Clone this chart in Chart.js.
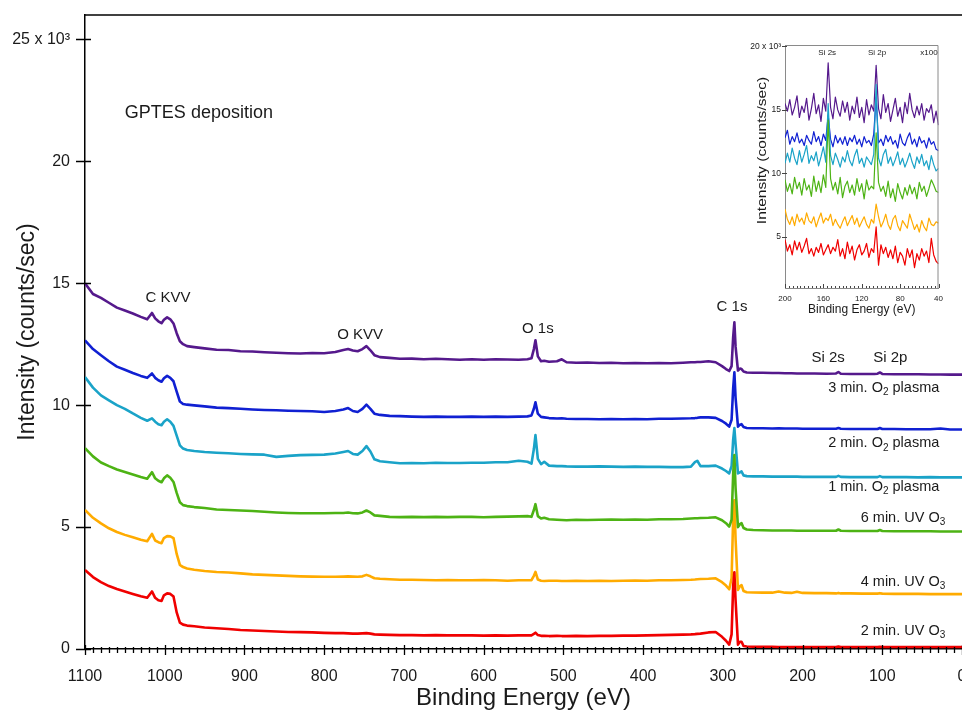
<!DOCTYPE html>
<html>
<head>
<meta charset="utf-8">
<script src="https://cdn.jsdelivr.net/npm/chart.js@4.4.1/dist/chart.umd.min.js"></script>
<style>
  body { margin: 0; background: #fff; }
  #wrap { position: relative; width: 962px; height: 714px; }
  #main { position: absolute; left: 0; top: 0; }
  #inset { position: absolute; left: 740px; top: 20px; }
</style>
</head>
<body>
<div id="wrap">
  <canvas id="main" width="962" height="714"></canvas>
  <canvas id="inset" width="215" height="305"></canvas>
</div>
<script>
const FONT = "'Liberation Sans', Arial, Helvetica, sans-serif";
Chart.defaults.font.family = FONT;
Chart.defaults.color = '#1a1a1a';

// ---- main survey spectra (binding energy in eV, intensity in 10^3 counts/sec)
const ENERGY_EV = [
  1100, 1090, 1080, 1070, 1060, 1050, 1040, 1030, 1022, 1016,
  1012, 1008, 1004, 1001, 997, 993, 989, 985, 981, 977,
  972, 963, 950, 935, 920, 905, 890, 875, 860, 845,
  830, 815, 800, 786, 776, 770, 764, 758, 752, 747,
  742, 737, 730, 718, 705, 690, 675, 660, 645, 630,
  615, 600, 585, 570, 556, 545, 540, 537, 535, 532,
  528, 524, 518, 508, 502, 496, 484, 470, 455, 440,
  425, 410, 395, 380, 365, 350, 340, 335, 332, 328,
  318, 309, 301, 296, 292, 289, 287, 285.5, 284, 281,
  278.5, 276.5, 274, 270, 262, 250, 238, 230, 222, 214,
  207, 200, 185, 170, 158, 155, 152, 140, 125, 110,
  106, 103, 100, 85, 70, 55, 40, 27, 15, 0
];

const O2_PLASMA_3MIN = [
  15.0, 14.56, 14.4, 14.2, 14.0, 13.88, 13.76, 13.62, 13.52, 13.78,
  13.56, 13.44, 13.36, 13.5, 13.6, 13.52, 13.35, 12.95, 12.62, 12.5,
  12.42, 12.38, 12.33, 12.27, 12.26, 12.21, 12.2, 12.17, 12.15, 12.13,
  12.12, 12.14, 12.13, 12.18, 12.26, 12.3, 12.24, 12.21, 12.3, 12.42,
  12.25, 12.05, 11.97, 11.94, 11.9, 11.91, 11.88, 11.9, 11.88, 11.86,
  11.88, 11.86, 11.88, 11.87, 11.86, 11.88, 11.92, 12.3, 12.66, 12.0,
  11.8, 11.82, 11.78, 11.8, 11.88, 11.76, 11.74, 11.75, 11.73, 11.74,
  11.72, 11.73, 11.72, 11.73, 11.72, 11.74, 11.76, 11.76, 11.77, 11.77,
  11.8, 11.76, 11.6, 11.48, 11.4, 11.6, 12.8, 13.4, 12.4, 11.42,
  11.5, 11.48, 11.38, 11.34, 11.33, 11.33, 11.32, 11.32, 11.31, 11.31,
  11.3, 11.3, 11.3, 11.29, 11.3, 11.36, 11.29, 11.28, 11.28, 11.28,
  11.29, 11.34, 11.28, 11.27, 11.27, 11.27, 11.26, 11.26, 11.25, 11.25
];

const O2_PLASMA_2MIN = [
  12.66, 12.3, 12.05, 11.8, 11.58, 11.45, 11.32, 11.2, 11.12, 11.3,
  11.12, 11.02, 10.96, 11.1, 11.2, 11.12, 10.98, 10.55, 10.15, 10.05,
  10.02, 9.99, 9.95, 9.9, 9.88, 9.85, 9.82, 9.8, 9.79, 9.77,
  9.76, 9.75, 9.72, 9.76, 9.82, 9.88, 9.76, 9.72, 9.85, 10.02,
  9.85, 9.65, 9.6, 9.56, 9.55, 9.53, 9.52, 9.53, 9.52, 9.52,
  9.53, 9.52, 9.53, 9.52, 9.53, 9.54, 9.58, 9.85, 10.12, 9.65,
  9.52, 9.5, 9.47, 9.45, 9.46, 9.44, 9.43, 9.43, 9.42, 9.43,
  9.42, 9.43, 9.42, 9.44, 9.44, 9.45, 9.46, 9.47, 9.48, 9.5,
  9.5, 9.48, 9.35, 9.24, 9.12, 9.4, 10.7, 11.35, 10.3, 9.12,
  9.2, 9.22, 9.1, 9.06, 9.05, 9.05, 9.04, 9.05, 9.04, 9.04,
  9.04, 9.03, 9.03, 9.03, 9.03, 9.06, 9.03, 9.02, 9.02, 9.02,
  9.02, 9.06, 9.02, 9.02, 9.01, 9.01, 9.01, 9.04, 9.0, 9.0
];

const O2_PLASMA_1MIN = [
  11.15, 10.72, 10.4, 10.2, 10.0, 9.85, 9.66, 9.48, 9.36, 9.46,
  9.32, 9.22, 9.18, 9.32, 9.42, 9.32, 9.15, 8.75, 8.35, 8.22,
  8.16, 8.12, 8.08, 8.05, 8.03, 8.0, 7.98, 7.97, 7.88, 7.92,
  7.95, 7.96, 7.97, 8.02, 8.08, 8.12, 8.0, 7.97, 8.12, 8.32,
  8.1, 7.78, 7.7, 7.66, 7.62, 7.63, 7.62, 7.64, 7.63, 7.63,
  7.64, 7.64, 7.66, 7.66, 7.72, 7.68, 7.6, 8.2, 8.77, 7.8,
  7.58, 7.68, 7.52, 7.5, 7.5, 7.49, 7.48, 7.48, 7.49, 7.48,
  7.47, 7.48, 7.47, 7.47, 7.46, 7.46, 7.48, 7.66, 7.72, 7.5,
  7.5, 7.52, 7.4, 7.3, 7.2, 7.5, 8.6, 9.06, 8.4, 7.2,
  7.24, 7.28, 7.12, 7.09, 7.08, 7.08, 7.07, 7.07, 7.07, 7.07,
  7.07, 7.06, 7.06, 7.06, 7.06, 7.1, 7.06, 7.05, 7.05, 7.05,
  7.05, 7.09, 7.05, 7.05, 7.05, 7.04, 7.05, 7.04, 7.04, 7.04
];

const UV_O3_6MIN = [
  8.24, 7.9, 7.65, 7.5, 7.36, 7.26, 7.16, 7.05, 6.98, 7.25,
  7.0, 6.9, 6.84, 7.0, 7.12, 7.02, 6.85, 6.4, 6.02, 5.9,
  5.86, 5.82, 5.78, 5.72, 5.7, 5.68, 5.66, 5.63, 5.6, 5.58,
  5.57, 5.57, 5.57, 5.58, 5.58, 5.6, 5.57, 5.56, 5.6, 5.68,
  5.6, 5.48, 5.46, 5.42, 5.41, 5.42, 5.41, 5.42, 5.41, 5.42,
  5.42, 5.4, 5.42, 5.43, 5.44, 5.45, 5.42, 5.7, 5.94, 5.45,
  5.35, 5.38, 5.32, 5.3, 5.29, 5.28, 5.3, 5.29, 5.3, 5.31,
  5.3, 5.31, 5.3, 5.32, 5.32, 5.33, 5.35, 5.36, 5.36, 5.37,
  5.38, 5.4, 5.28, 5.16, 5.02, 5.3, 7.2, 7.95, 6.6, 5.0,
  5.12, 5.16, 4.96, 4.9, 4.88, 4.87, 4.86, 4.86, 4.86, 4.86,
  4.85, 4.85, 4.85, 4.85, 4.85, 4.9, 4.85, 4.84, 4.84, 4.84,
  4.84, 4.88, 4.84, 4.83, 4.83, 4.83, 4.83, 4.82, 4.82, 4.82
];

const UV_O3_4MIN = [
  5.7, 5.38, 5.15, 4.95, 4.8, 4.68, 4.58, 4.48, 4.42, 4.72,
  4.45, 4.38, 4.34, 4.55, 4.63, 4.62, 4.55, 3.9, 3.45, 3.36,
  3.3, 3.25, 3.2, 3.16, 3.14, 3.1, 3.06, 3.04, 3.02, 3.0,
  2.98, 2.97, 2.96, 2.96, 2.97, 2.98, 2.97, 2.96, 2.98, 3.04,
  2.98, 2.9, 2.88, 2.86, 2.84, 2.84, 2.83, 2.82, 2.83, 2.82,
  2.82, 2.83, 2.82, 2.8, 2.82, 2.82, 2.82, 3.0, 3.16, 2.85,
  2.8, 2.79, 2.8, 2.8, 2.79, 2.79, 2.8, 2.79, 2.8, 2.79,
  2.8, 2.81, 2.8, 2.82, 2.82, 2.83, 2.84, 2.85, 2.86, 2.87,
  2.88, 2.9, 2.74, 2.6, 2.45, 2.9, 5.4, 6.1, 4.5, 2.42,
  2.58, 2.62, 2.38, 2.33, 2.32, 2.31, 2.31, 2.36, 2.31, 2.3,
  2.35, 2.3, 2.29, 2.29, 2.28, 2.3, 2.28, 2.28, 2.27, 2.27,
  2.27, 2.29, 2.27, 2.26, 2.26, 2.26, 2.25, 2.25, 2.25, 2.25
];

const UV_O3_2MIN = [
  3.24, 2.95, 2.74, 2.58, 2.46, 2.36, 2.26, 2.16, 2.1, 2.36,
  2.1, 2.0, 1.97, 2.2, 2.28, 2.26, 2.15, 1.5, 1.08, 1.0,
  0.96, 0.93, 0.88, 0.85, 0.82, 0.78, 0.76, 0.74, 0.72, 0.7,
  0.69, 0.68, 0.66, 0.65, 0.65, 0.64, 0.63, 0.63, 0.64, 0.65,
  0.63, 0.6, 0.59, 0.58, 0.57, 0.57, 0.56, 0.57, 0.56, 0.56,
  0.56, 0.55, 0.56, 0.55, 0.56, 0.56, 0.56, 0.62, 0.67, 0.57,
  0.54, 0.54, 0.53, 0.54, 0.53, 0.53, 0.54, 0.53, 0.54, 0.54,
  0.55, 0.55, 0.56, 0.57, 0.58, 0.59, 0.6, 0.61, 0.62, 0.63,
  0.68, 0.7, 0.5, 0.34, 0.18, 0.6, 2.6, 3.15, 2.0, 0.18,
  0.3, 0.3, 0.12, 0.1, 0.09, 0.09, 0.09, 0.08, 0.08, 0.08,
  0.08, 0.08, 0.08, 0.08, 0.08, 0.1, 0.08, 0.08, 0.08, 0.08,
  0.08, 0.09, 0.08, 0.08, 0.08, 0.08, 0.08, 0.08, 0.08, 0.08
];

const Y_TICKS = [0, 5, 10, 15, 20, 25];

// ---- inset: Si 2s / Si 2p region, x100
const INSET_EV = [
  200, 197.5, 195, 192.5, 190, 187.5, 185, 182.5, 180, 177.5, 175, 172.5, 170,
  167.5, 165, 162.5, 160, 157.5, 155, 152.5, 150, 147.5, 145, 142.5, 140, 137.5,
  135, 132.5, 130, 127.5, 125, 122.5, 120, 117.5, 115, 112.5, 110, 107.5, 105,
  102.5, 100, 97.5, 95, 92.5, 90, 87.5, 85, 82.5, 80, 77.5, 75, 72.5,
  70, 67.5, 65, 62.5, 60, 57.5, 55, 52.5, 50, 47.5, 45, 42.5, 40
];
const INSET_3MIN = [
  15.5, 14.9, 15.8, 14.6, 15.2, 16.1, 14.4, 15.3, 14.8, 15.9, 14.2, 15.1, 16.3,
  14.7, 15.4, 14.1, 15.9, 14.9, 18.7, 15.2, 14.3, 16.0, 15.0, 14.5, 15.7, 14.8,
  15.6, 14.2, 15.3, 14.7, 16.0, 14.4, 15.2, 14.0, 15.8, 14.6, 15.4, 14.9, 18.5,
  15.1, 14.3, 16.2, 14.8, 15.5, 14.1, 15.0, 15.9, 14.5, 15.2, 14.0, 15.6, 14.7,
  16.3, 15.0, 14.4, 15.3, 14.6, 15.5, 14.2, 15.1, 14.8, 15.4, 14.0, 14.9, 13.8
];
const INSET_2MIN = [
  12.8, 13.4, 12.3, 12.9, 12.5, 13.2, 12.4, 12.7, 12.2, 13.0, 12.6, 12.3, 13.3,
  12.5, 12.9, 12.2, 13.1, 12.6, 14.6, 12.7, 12.1, 13.0, 12.4, 12.8, 12.3, 12.9,
  12.2, 12.8, 12.5, 13.0, 12.3, 12.7, 12.1, 12.9, 12.4, 12.6, 12.2, 13.1, 16.0,
  12.4, 12.7, 12.2, 13.0, 12.5, 12.9, 12.3, 12.6, 12.0, 13.1, 12.4, 12.2, 12.8,
  13.2, 12.3, 12.7, 12.1, 12.9, 12.4, 12.6, 12.0, 12.8, 12.3, 12.5, 11.9, 11.8
];
const INSET_1MIN = [
  10.8, 11.6, 10.9, 12.0, 11.2, 10.7, 11.8, 10.9, 11.5, 12.2, 10.8, 11.4, 11.0,
  11.7, 10.6, 11.3, 12.1, 10.9, 15.5, 11.4, 10.7, 11.6, 11.1, 10.5, 11.3, 10.9,
  11.8, 11.0, 10.6, 11.4, 11.9, 10.8, 11.2, 10.5, 11.3, 11.0, 10.7, 11.5, 17.0,
  11.2, 10.6, 11.5, 11.9, 10.8, 11.3, 10.6, 11.1, 11.7, 10.7, 11.2, 10.5, 11.0,
  11.6, 10.9, 10.4, 11.3, 10.8, 11.5, 10.6, 11.0, 10.3, 11.4, 10.7, 10.2, 10.4
];
const INSET_UV6 = [
  9.5, 8.6, 9.2, 8.4, 9.7, 8.8, 9.3, 8.3, 9.6, 8.7, 9.1, 8.2, 9.8,
  8.6, 9.4, 8.5, 9.9, 8.9, 14.2, 9.6, 8.7, 9.3, 8.4, 9.7, 8.1, 9.0,
  9.4, 8.5, 9.1, 8.3, 9.6, 8.6, 9.2, 8.0, 9.5, 8.7, 9.0, 8.8, 13.2,
  9.3, 8.6, 9.0, 8.2, 9.4, 8.1, 8.8, 7.8, 9.2, 8.5, 8.0, 8.9, 8.3,
  9.1, 8.4, 8.9, 8.0, 9.3, 8.6, 9.0, 8.2, 8.8, 9.5, 9.1, 8.6, 8.5
];
const INSET_UV4 = [
  7.2, 6.4, 6.0, 6.6, 5.9, 6.8, 6.2, 6.5, 6.0, 6.9, 6.3, 6.1, 6.6,
  5.8, 6.4, 6.9, 6.1, 6.5, 6.3, 6.8, 5.9, 6.4, 6.0, 5.7, 6.2, 6.6,
  5.9, 6.3, 6.7, 6.0, 6.5, 5.8, 6.2, 6.6, 6.0, 5.7, 6.4, 6.1, 7.6,
  6.6, 5.8, 6.2, 6.8, 6.0, 5.6, 6.4, 6.7, 5.9, 5.5, 6.3, 6.0, 5.7,
  6.8, 6.2, 5.6, 6.0, 5.4, 6.3, 5.8, 5.5, 6.5, 6.0, 5.9, 6.2, 6.1
];
const INSET_UV2 = [
  4.8, 3.9, 4.4, 3.6, 4.7, 4.0, 4.6, 3.8, 4.3, 4.9, 3.7, 4.1, 3.5,
  4.2, 3.8, 4.5, 3.6, 4.0, 4.4, 3.7, 4.2, 3.9, 4.8, 3.5, 4.1, 3.3,
  4.6, 3.7, 4.3, 3.2, 4.0, 4.4, 3.6, 3.9, 4.5, 3.4, 4.1, 3.8, 5.8,
  2.8, 4.4, 3.7, 4.2, 3.4, 4.0, 3.3, 4.3, 3.0, 3.8, 3.5, 2.8, 4.1,
  3.4, 4.0, 2.6, 3.7, 3.2, 4.1, 3.5, 3.9, 3.0, 4.9, 3.6, 3.1, 2.9
];
const INSET_Y_TICKS = [5, 10, 15, 20];

const COLORS = {
  p3: '#55198c', p2: '#1020d2', p1: '#1aa3c8',
  uv6: '#4db314', uv4: '#ffab00', uv2: '#f00000'
};

// text placed in data coordinates (energy, intensity)
const NOTES = [
  {text: 'GPTES deposition', e: 1050, v: 21.97, size: 18, align: 'left'},
  {text: 'C KVV', e: 996, v: 14.39, size: 15, align: 'center'},
  {text: 'O KVV', e: 755, v: 12.87, size: 15, align: 'center'},
  {text: 'O 1s', e: 532, v: 13.11, size: 15, align: 'center'},
  {text: 'C 1s', e: 288.5, v: 14.02, size: 15, align: 'center'},
  {text: 'Si 2s', e: 168, v: 11.93, size: 15, align: 'center'},
  {text: 'Si 2p', e: 90, v: 11.93, size: 15, align: 'center'},
  {text: '3 min. O_2 plasma', e: 28.5, v: 10.7, size: 14.5, align: 'right'},
  {text: '2 min. O_2 plasma', e: 28.5, v: 8.44, size: 14.5, align: 'right'},
  {text: '1 min. O_2 plasma', e: 28.5, v: 6.64, size: 14.5, align: 'right'},
  {text: '6 min. UV O_3', e: 21, v: 5.37, size: 14.5, align: 'right'},
  {text: '4 min. UV O_3', e: 21, v: 2.76, size: 14.5, align: 'right'},
  {text: '2 min. UV O_3', e: 21, v: 0.75, size: 14.5, align: 'right'}
];
const INSET_NOTES = [
  {text: 'Si 2s', e: 156, v: 19.45},
  {text: 'Si 2p', e: 104, v: 19.45},
  {text: 'x100', e: 50, v: 19.45}
];

function toPoints(xs, ys) {
  return xs.map((x, i) => ({x: x, y: ys[i]}));
}

// text with "_N" marking a subscript digit
function drawRich(ctx, text, x, y, size, align) {
  const parts = text.split(/_(\d)/);
  const big = size + 'px ' + FONT;
  const small = Math.round(size * 0.7) + 'px ' + FONT;
  let w = 0;
  parts.forEach((p, i) => { ctx.font = i % 2 ? small : big; w += ctx.measureText(p).width; });
  let cx = align === 'right' ? x - w : align === 'center' ? x - w / 2 : x;
  ctx.textAlign = 'left';
  ctx.textBaseline = 'middle';
  parts.forEach((p, i) => {
    ctx.font = i % 2 ? small : big;
    ctx.fillText(p, cx, i % 2 ? y + size * 0.32 : y);
    cx += ctx.measureText(p).width;
  });
}

const mainDecor = {
  id: 'mainDecor',
  afterDraw(chart) {
    const {ctx, chartArea: a, scales: {x, y}} = chart;
    ctx.save();
    ctx.strokeStyle = '#000';
    ctx.lineWidth = 1.5;
    ctx.beginPath();
    ctx.moveTo(a.left, a.top);
    ctx.lineTo(a.right, a.top);
    ctx.stroke();

    ctx.lineWidth = 1.3;
    ctx.beginPath();
    Y_TICKS.forEach(v => {
      const py = Math.round(y.getPixelForValue(v)) + 0.5;
      ctx.moveTo(a.left - 9, py);
      ctx.lineTo(a.left + 6, py);
    });
    for (let e = 0; e <= 1100; e += 10) {
      const px = Math.round(x.getPixelForValue(e)) + 0.5;
      const major = e % 100 === 0;
      ctx.moveTo(px, a.bottom - (major ? 4 : 2));
      ctx.lineTo(px, a.bottom + (major ? 6 : 4));
    }
    ctx.stroke();

    ctx.fillStyle = '#1a1a1a';
    NOTES.forEach(n => drawRich(ctx, n.text, x.getPixelForValue(n.e), y.getPixelForValue(n.v), n.size, n.align));
    ctx.restore();
  }
};

const insetDecor = {
  id: 'insetDecor',
  afterDraw(chart) {
    const {ctx, chartArea: a, scales: {x, y}} = chart;
    ctx.save();
    ctx.strokeStyle = '#8a8a8a';
    ctx.lineWidth = 1;
    ctx.beginPath();
    ctx.moveTo(a.left, a.top + 0.5);
    ctx.lineTo(a.right - 0.5, a.top + 0.5);
    ctx.lineTo(a.right - 0.5, a.bottom);
    ctx.stroke();

    ctx.strokeStyle = '#444';
    ctx.beginPath();
    INSET_Y_TICKS.forEach(v => {
      const py = Math.round(y.getPixelForValue(v)) + 0.5;
      ctx.moveTo(a.left - 3, py);
      ctx.lineTo(a.left + 2, py);
    });
    for (let e = 40; e <= 200; e += 4) {
      const px = Math.round(x.getPixelForValue(e)) + 0.5;
      ctx.moveTo(px, a.bottom - (e % 40 === 0 ? 4 : 2));
      ctx.lineTo(px, a.bottom);
    }
    ctx.stroke();

    ctx.fillStyle = '#1a1a1a';
    INSET_NOTES.forEach(n => drawRich(ctx, n.text, x.getPixelForValue(n.e), y.getPixelForValue(n.v), 8, 'center'));

    ctx.font = '12px ' + FONT;
    ctx.textAlign = 'center';
    ctx.textBaseline = 'middle';
    ctx.fillText('Binding Energy (eV)', (a.left + a.right) / 2, a.bottom + 22);
    ctx.translate(a.left - 22, (a.top + a.bottom) / 2 - 16);
    ctx.rotate(-Math.PI / 2);
    ctx.scale(1.3, 1);
    ctx.fillText('Intensity (counts/sec)', 0, 0);
    ctx.restore();
  }
};

function line(label, xs, ys, color, order, width) {
  return {
    label: label,
    data: toPoints(xs, ys),
    borderColor: color,
    borderWidth: width,
    pointRadius: 0,
    tension: 0,
    fill: false,
    borderJoinStyle: 'round',
    order: order
  };
}

new Chart(document.getElementById('main').getContext('2d'), {
  type: 'line',
  plugins: [mainDecor],
  data: {
    datasets: [
      line('2 min. UV O3', ENERGY_EV, UV_O3_2MIN, COLORS.uv2, 0, 2.6),
      line('6 min. UV O3', ENERGY_EV, UV_O3_6MIN, COLORS.uv6, 1, 2.6),
      line('4 min. UV O3', ENERGY_EV, UV_O3_4MIN, COLORS.uv4, 2, 2.6),
      line('1 min. O2 plasma', ENERGY_EV, O2_PLASMA_1MIN, COLORS.p1, 3, 2.6),
      line('2 min. O2 plasma', ENERGY_EV, O2_PLASMA_2MIN, COLORS.p2, 4, 2.6),
      line('3 min. O2 plasma', ENERGY_EV, O2_PLASMA_3MIN, COLORS.p3, 5, 2.6)
    ]
  },
  options: {
    responsive: false,
    animation: false,
    devicePixelRatio: 1,
    layout: {padding: {top: 15, right: 0, bottom: 0, left: 0}},
    plugins: {legend: {display: false}, tooltip: {enabled: false}},
    scales: {
      x: {
        type: 'linear', reverse: true, min: 0, max: 1100,
        ticks: {stepSize: 100, autoSkip: false, maxRotation: 0, padding: 18, font: {size: 16}, color: '#1a1a1a',
          callback: v => String(v)},
        grid: {display: false, drawTicks: false},
        border: {display: true, color: '#000', width: 1.5},
        title: {display: true, text: 'Binding Energy (eV)', font: {size: 24}, color: '#1a1a1a', padding: {top: 0, bottom: 1}},
        afterFit: s => { s.height = 65; s.paddingLeft = 0; s.paddingRight = 0; }
      },
      y: {
        type: 'linear', min: 0, max: 26,
        ticks: {stepSize: 5, includeBounds: false, padding: 15, font: {size: 16}, color: '#1a1a1a',
          callback: v => v === 25 ? '25 x 10³' : String(v)},
        grid: {display: false, drawTicks: false},
        border: {display: true, color: '#000', width: 1.5},
        title: {display: true, text: 'Intensity (counts/sec)', font: {size: 23}, color: '#1a1a1a', padding: {top: 14, bottom: 0}},
        afterFit: s => { s.width = 85; s.paddingTop = 0; s.paddingBottom = 0; }
      }
    }
  }
});

new Chart(document.getElementById('inset').getContext('2d'), {
  type: 'line',
  plugins: [insetDecor],
  data: {
    datasets: [
      line('2 min. UV O3', INSET_EV, INSET_UV2, COLORS.uv2, 0, 1.2),
      line('6 min. UV O3', INSET_EV, INSET_UV6, COLORS.uv6, 1, 1.2),
      line('4 min. UV O3', INSET_EV, INSET_UV4, COLORS.uv4, 2, 1.2),
      line('1 min. O2 plasma', INSET_EV, INSET_1MIN, COLORS.p1, 3, 1.2),
      line('2 min. O2 plasma', INSET_EV, INSET_2MIN, COLORS.p2, 4, 1.2),
      line('3 min. O2 plasma', INSET_EV, INSET_3MIN, COLORS.p3, 5, 1.2)
    ]
  },
  options: {
    responsive: false,
    animation: false,
    devicePixelRatio: 1,
    layout: {padding: {top: 25, right: 16.5, bottom: 0, left: 0}},
    plugins: {legend: {display: false}, tooltip: {enabled: false}},
    scales: {
      x: {
        type: 'linear', reverse: true, min: 40, max: 200,
        ticks: {stepSize: 40, autoSkip: false, maxRotation: 0, padding: 6, font: {size: 8}, color: '#1a1a1a',
          callback: v => String(v)},
        grid: {display: false, drawTicks: false},
        border: {display: true, color: '#8a8a8a', width: 1},
        afterFit: s => { s.height = 37; s.paddingLeft = 0; s.paddingRight = 0; }
      },
      y: {
        type: 'linear', min: 1, max: 20.1,
        ticks: {stepSize: 5, includeBounds: false, padding: 4, font: {size: 8.5}, color: '#1a1a1a',
          callback: v => v === 20 ? '20 x 10³' : String(v)},
        grid: {display: false, drawTicks: false},
        border: {display: true, color: '#8a8a8a', width: 1},
        afterFit: s => { s.width = 45; s.paddingTop = 0; s.paddingBottom = 0; }
      }
    }
  }
});
</script>
</body>
</html>
